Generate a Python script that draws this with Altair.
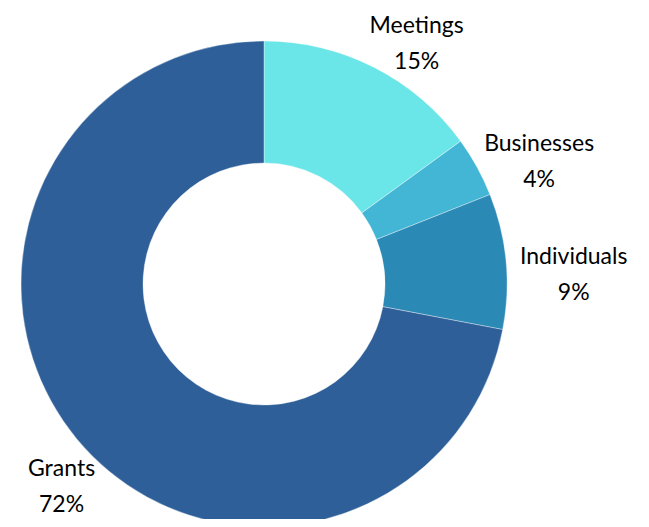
import altair as alt
import pandas as pd

categories = ["Meetings", "Businesses", "Individuals", "Grants"]
shares = [15, 4, 9, 72]
colors = ["#6AE5E8", "#42B6D4", "#2B89B5", "#2E5F98"]

df = pd.DataFrame({
    "category": categories,
    "share": shares,
    "idx": list(range(len(categories))),
})
df["label"] = [f"{c}\n{s}%" for c, s in zip(categories, shares)]

cx, cy = 256, 276

base = alt.Chart(df).encode(
    theta=alt.Theta("share:Q", stack=True),
    order=alt.Order("idx:Q"),
)

arcs = base.mark_arc(
    outerRadius=243, innerRadius=121,
    stroke="#ffffff", strokeWidth=0.6, strokeOpacity=0.6,
).encode(
    x=alt.value(cx), y=alt.value(cy),
    color=alt.Color("category:N", scale=alt.Scale(domain=categories, range=colors), legend=None),
)

labels = base.mark_text(
    radius=290, dx=21, dy=7,
    font="Lato", fontSize=23, lineHeight=36,
    align="center", baseline="alphabetic", color="#000000",
    lineBreak="\n",
).encode(
    x=alt.value(cx), y=alt.value(cy),
    text="label:N",
)

chart = (arcs + labels).properties(
    width=633, height=511,
    autosize=alt.AutoSizeParams(type="none"),
    padding=0,
).configure_view(stroke=None)

chart.save("out.html", embed_options={"renderer": "svg", "actions": False})
